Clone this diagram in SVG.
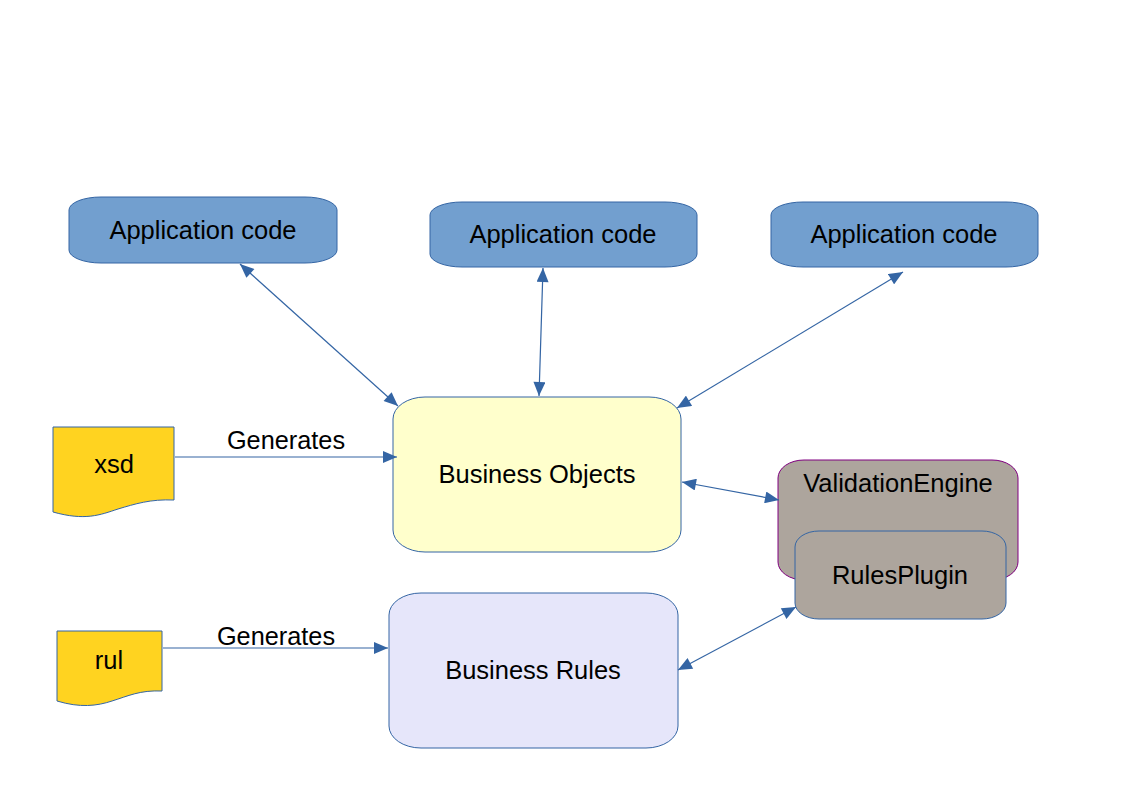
<svg xmlns="http://www.w3.org/2000/svg" width="1123" height="794" viewBox="0 0 1123 794">
<style>
text{font-family:"Liberation Sans",Arial,sans-serif;font-size:25.5px;fill:#000;text-anchor:middle}
.lbl{font-size:25.3px}
.app{fill:#729fcf;stroke:#3465a4;stroke-width:1}
.doc{fill:#ffd320;stroke:#3465a4;stroke-width:1}
.con{stroke:#3465a4;stroke-width:1.2;fill:none}
</style>
<defs>
<marker id="ah" viewBox="0 0 14 12" refX="14" refY="6" markerWidth="15" markerHeight="12" markerUnits="userSpaceOnUse" orient="auto-start-reverse">
<path d="M0,0 L14,6 L0,12 z" fill="#3465a4"/>
</marker>
</defs>
<rect width="1123" height="794" fill="#fff"/>
<g id="app1"><rect class="app" x="69" y="197" width="268" height="66" rx="32" ry="13"/><text x="203" y="239">Application code</text></g>
<g id="app2"><rect class="app" x="430" y="202" width="267" height="65" rx="32" ry="13"/><text x="563" y="243">Application code</text></g>
<g id="app3"><rect class="app" x="771" y="202" width="267" height="65" rx="32" ry="13"/><text x="904" y="243">Application code</text></g>
<g id="businessObjects"><rect x="393" y="397" width="288" height="155" rx="32" ry="22" fill="#ffffcc" stroke="#3465a4"/><text x="537" y="483">Business Objects</text></g>
<g id="businessRules"><rect x="389" y="593" width="289" height="155" rx="32" ry="22" fill="#e6e6fa" stroke="#3465a4"/><text x="533" y="679">Business Rules</text></g>
<g id="validationEngine"><rect x="778" y="460" width="240" height="120" rx="26" ry="18" fill="#ada59d" stroke="#800080"/><text x="898" y="492">ValidationEngine</text></g>
<g id="rulesPlugin"><rect x="795" y="531" width="211" height="88" rx="24" ry="16" fill="#ada59d" stroke="#3465a4"/><text x="900" y="584">RulesPlugin</text></g>
<g id="xsd"><path class="doc" d="M53,427 H174 V500 C150,499 135,504 118,509 C100,515 85,521 53,512 Z"/><text x="114" y="473">xsd</text></g>
<g id="rul"><path class="doc" d="M57,631 H162 V691 C140,690 128,696 112,701 C97,706 80,708 57,701 Z"/><text x="109" y="669">rul</text></g>
<g id="connectors">
<line class="con" x1="240" y1="264" x2="398" y2="406" marker-start="url(#ah)" marker-end="url(#ah)"/>
<line class="con" x1="543" y1="268" x2="539" y2="396" marker-start="url(#ah)" marker-end="url(#ah)"/>
<line class="con" x1="903" y1="272" x2="677" y2="408" marker-start="url(#ah)" marker-end="url(#ah)"/>
<line class="con" x1="682" y1="482" x2="779" y2="500" marker-start="url(#ah)" marker-end="url(#ah)"/>
<line class="con" x1="796" y1="607" x2="678" y2="670" marker-start="url(#ah)" marker-end="url(#ah)"/>
<line class="con" x1="175" y1="457" x2="397" y2="457" marker-end="url(#ah)"/>
<line class="con" x1="163" y1="648" x2="388" y2="648" marker-end="url(#ah)"/>
<text class="lbl" x="286" y="449">Generates</text>
<text class="lbl" x="276" y="645">Generates</text>
</g>
</svg>
